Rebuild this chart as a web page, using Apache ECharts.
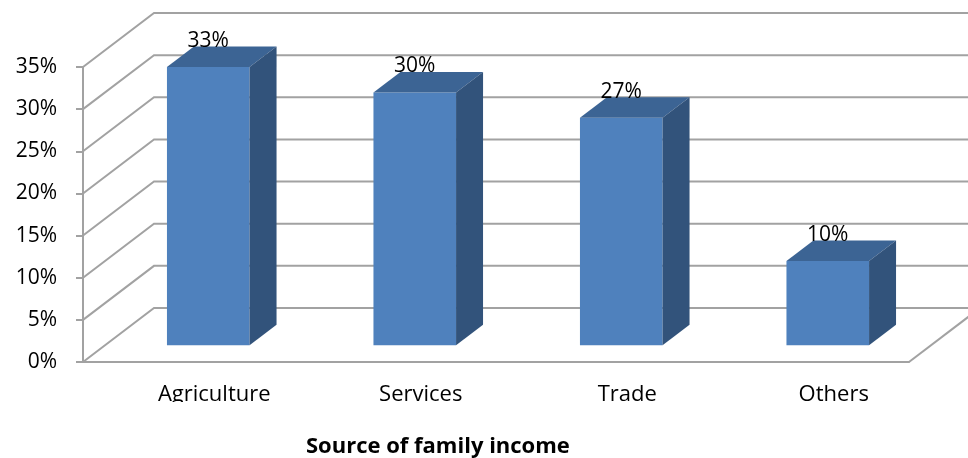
<!DOCTYPE html>
<html>
<head>
<meta charset="utf-8">
<script src="https://cdn.jsdelivr.net/npm/echarts@6/dist/echarts.min.js"></script>
<style>
  html, body { margin: 0; padding: 0; background: #fff; }
  #chart { width: 968px; height: 458px; }
</style>
</head>
<body>
<div id="chart"></div>
<script>
// Source of family income, share of households
const categories = ['Agriculture', 'Services', 'Trade', 'Others'];
const shares = [33, 30, 27, 10];
const yTicks = [0, 5, 10, 15, 20, 25, 30, 35];
const chartTitle = 'Source of family income';

// Oblique projection of the depth axis (pixels for the full floor depth)
const DEPTH_X = 71;
const DEPTH_Y = 54;
const BAR_FRONT = 0.31;   // where the column front faces sit along the depth
const BAR_DEPTH = 0.38;   // column depth as a fraction of the floor depth
const BAR_WIDTH = 0.4;    // column width as a fraction of the category band

const FONT = '"Open Sans", sans-serif';
const GRID_COLOR = '#a2a2a2';

const chart = echarts.init(document.getElementById('chart'), null, { renderer: 'canvas' });

function wallLines(params, api) {
  const v = api.value(1);
  const cs = params.coordSys;
  const y = api.coord([0, v])[1];
  const left = cs.x, right = cs.x + cs.width;
  const style = { stroke: GRID_COLOR, lineWidth: 2, fill: null };
  const children = [{
    type: 'polyline',
    shape: { points: [[left, y], [left + DEPTH_X, y - DEPTH_Y], [right + DEPTH_X, y - DEPTH_Y]] },
    style: style
  }];
  if (v === yTicks[0]) {
    children.push({
      type: 'line',
      shape: { x1: right, y1: y, x2: right + DEPTH_X, y2: y - DEPTH_Y },
      style: style
    });
  }
  return { type: 'group', children: children };
}

function column(params, api) {
  const idx = api.value(0);
  const v = api.value(1);
  const top = api.coord([idx, v]);
  const base = api.coord([idx, 0]);
  const band = api.size([1, 0])[0];
  const w = band * BAR_WIDTH;
  const ox = DEPTH_X * BAR_FRONT, oy = DEPTH_Y * BAR_FRONT;
  const dx = DEPTH_X * BAR_DEPTH, dy = DEPTH_Y * BAR_DEPTH;
  const x0 = top[0] + ox - w / 2;
  const x1 = x0 + w;
  const yT = top[1] - oy;
  const yB = base[1] - oy;
  return {
    type: 'group',
    children: [
      { type: 'rect', shape: { x: x0, y: yT, width: w, height: yB - yT },
        style: { fill: '#4f81bd' } },
      { type: 'polygon', shape: { points: [[x0, yT], [x0 + dx, yT - dy], [x1 + dx, yT - dy], [x1, yT]] },
        style: { fill: '#3c6494' } },
      { type: 'polygon', shape: { points: [[x1, yT], [x1 + dx, yT - dy], [x1 + dx, yB - dy], [x1, yB]] },
        style: { fill: '#32537b' } },
      { type: 'text', x: x0 + w / 2, y: yT - 26,
        style: { text: v + '%', fill: '#000', font: '21px ' + FONT, align: 'center', verticalAlign: 'middle' } }
    ]
  };
}

chart.setOption({
  backgroundColor: '#fff',
  animation: false,
  grid: { left: 83, right: 59, top: 67, bottom: 96 },
  title: {
    text: chartTitle,
    left: 301,
    top: 431,
    z: 20,
    textStyle: { fontFamily: FONT, fontWeight: 'bold', fontSize: 22, color: '#000' }
  },
  xAxis: {
    type: 'category',
    data: categories,
    axisLine: { lineStyle: { color: GRID_COLOR, width: 2 } },
    axisTick: { length: 6, lineStyle: { color: GRID_COLOR, width: 2 } },
    axisLabel: { margin: 22, color: '#000', fontFamily: FONT, fontSize: 22, padding: [0, 0, 0, 56] },
    splitLine: { show: false }
  },
  yAxis: {
    type: 'value',
    min: 0, max: 35, interval: 5,
    axisLine: { show: true, lineStyle: { color: GRID_COLOR, width: 2 } },
    axisTick: { show: true, length: 7, lineStyle: { color: GRID_COLOR, width: 2 } },
    axisLabel: { margin: 26, color: '#000', fontFamily: FONT, fontSize: 21, formatter: '{value}%' },
    splitLine: { show: false }
  },
  graphic: [{
    type: 'rect', z: 10,
    shape: { x: 0, y: 402, width: 968, height: 30 },
    style: { fill: '#fff' }
  }],
  series: [
    {
      type: 'custom',
      name: 'walls',
      renderItem: wallLines,
      data: yTicks.map(t => [0, t]),
      z: 1,
      silent: true
    },
    {
      type: 'custom',
      name: 'share',
      renderItem: column,
      data: shares.map((s, i) => [i, s]),
      z: 3
    }
  ]
});
</script>
</body>
</html>
